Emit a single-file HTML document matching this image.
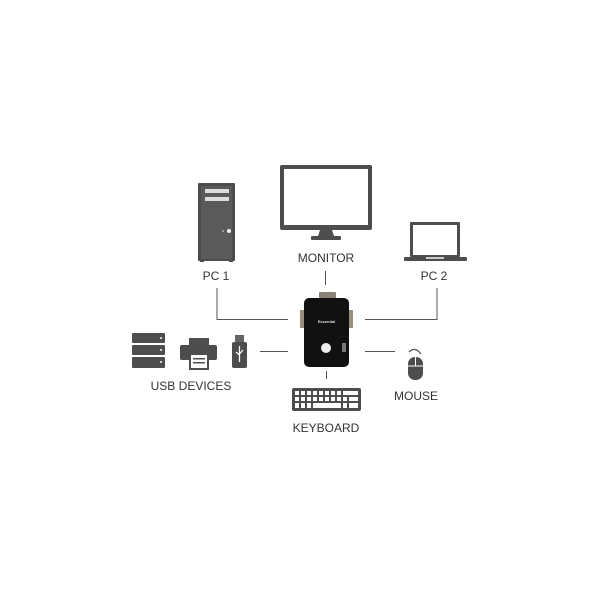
<!DOCTYPE html>
<html><head><meta charset="utf-8"><style>
html,body{margin:0;padding:0;background:#fff;}
svg{display:block}
text{font-family:"Liberation Sans",sans-serif;font-size:12px;fill:#333;text-anchor:middle;}
</style></head><body>
<svg width="600" height="600" viewBox="0 0 600 600">
<g fill="#4d4d4d" stroke="none">
<!-- PC tower -->
<rect x="198" y="183" width="37" height="78" rx="1"/>
<rect x="201" y="186" width="31" height="73" fill="#5a5a5a"/>
<rect x="205" y="189" width="24" height="4" fill="#ddd"/>
<rect x="205" y="197" width="24" height="4" fill="#ddd"/>
<circle cx="229" cy="231" r="2" fill="#eee"/>
<circle cx="223" cy="231" r="0.8" fill="#eee"/>
<rect x="200" y="260" width="4" height="2"/><rect x="229" y="260" width="4" height="2"/>
<!-- Monitor -->
<rect x="280" y="165" width="92" height="65" rx="2"/>
<rect x="284" y="169" width="84" height="56" fill="#fff"/>
<polygon points="320,230 332,230 334,236 318,236"/>
<rect x="311" y="236" width="30" height="4" rx="1"/>
<!-- Laptop -->
<rect x="410" y="222" width="50" height="35" rx="1"/>
<rect x="413" y="225" width="44" height="30" fill="#fff"/>
<rect x="404" y="257" width="63" height="4" rx="1"/>
<rect x="426" y="257" width="18" height="2" fill="#ccc"/>
<!-- Servers -->
<rect x="132" y="333" width="33" height="10" rx="1"/>
<rect x="132" y="345" width="33" height="10" rx="1"/>
<rect x="132" y="357" width="33" height="11" rx="1"/>
<circle cx="161" cy="338" r="1" fill="#fff"/><circle cx="161" cy="350" r="1" fill="#fff"/><circle cx="161" cy="362" r="1" fill="#fff"/>
<!-- Printer -->
<rect x="189" y="338" width="20" height="8"/>
<rect x="180" y="345" width="37" height="15" rx="2"/>
<rect x="189" y="353" width="20" height="17" fill="#4d4d4d"/>
<rect x="191" y="355" width="16" height="13" fill="#fff"/>
<rect x="193" y="358" width="12" height="1.5"/>
<rect x="193" y="362" width="12" height="1.5"/>
<!-- USB stick -->
<rect x="235" y="335" width="9" height="7" fill="#666"/>
<rect x="232" y="342" width="15" height="26" rx="2"/>
<path d="M239.5 346 v16 M236 352 l3.5 3 M243 350 l-3.5 4" stroke="#fff" stroke-width="1.2" fill="none"/>
<!-- Mouse -->
<path d="M409 352 q6 -6 12 2" stroke="#4d4d4d" stroke-width="1.2" fill="none"/>
<rect x="408" y="357" width="15" height="23" rx="7"/>
<line x1="415.5" y1="357" x2="415.5" y2="366" stroke="#fff" stroke-width="1"/>
<line x1="408" y1="366" x2="423" y2="366" stroke="#fff" stroke-width="1"/>
<!-- Keyboard -->
<rect x="292" y="388" width="69" height="23" rx="2"/>
</g>
<g fill="#fff">
<!-- keyboard keys -->
<g id="r1"><rect x="295" y="391" width="4" height="4"/><rect x="301" y="391" width="4" height="4"/><rect x="307" y="391" width="4" height="4"/><rect x="313" y="391" width="4" height="4"/><rect x="319" y="391" width="4" height="4"/><rect x="325" y="391" width="4" height="4"/><rect x="331" y="391" width="4" height="4"/><rect x="337" y="391" width="4" height="4"/><rect x="343" y="391" width="15" height="4"/></g>
<rect x="295" y="397" width="4" height="4"/><rect x="301" y="397" width="4" height="4"/><rect x="307" y="397" width="4" height="4"/><rect x="313" y="397" width="4" height="4"/><rect x="319" y="397" width="4" height="4"/><rect x="325" y="397" width="4" height="4"/><rect x="331" y="397" width="4" height="4"/><rect x="337" y="397" width="4" height="4"/><rect x="343" y="397" width="4" height="4"/><rect x="349" y="397" width="9" height="4"/>
<rect x="295" y="403" width="4" height="5"/><rect x="301" y="403" width="4" height="5"/><rect x="307" y="403" width="4" height="5"/><rect x="313" y="403" width="28" height="5"/><rect x="343" y="403" width="4" height="5"/><rect x="349" y="403" width="9" height="5"/>
</g>
<!-- connectors -->
<g stroke="#555" stroke-width="1" fill="none">
<polyline points="217,288 217,319.5 288,319.5"/>
<polyline points="437,288 437,319.5 365,319.5"/>
<line x1="325.5" y1="271" x2="325.5" y2="285"/>
<line x1="260" y1="351.5" x2="288" y2="351.5"/>
<line x1="365" y1="351.5" x2="395" y2="351.5"/>
<line x1="326.5" y1="371" x2="326.5" y2="379"/>
</g>
<!-- KVM device -->
<rect x="319" y="292" width="17" height="8" rx="1" fill="#8a8378"/>
<rect x="300" y="310" width="5" height="18" fill="#9a8f7f"/>
<rect x="348" y="310" width="5" height="18" fill="#9a8f7f"/>
<rect x="304" y="298" width="45" height="69" rx="5" fill="#111"/>
<text x="326.5" y="323" style="font-size:4px;fill:#ddd;font-weight:bold">Essential</text>
<circle cx="326" cy="348" r="5" fill="#eee"/>
<rect x="342" y="343" width="4" height="9" fill="#777"/>
<!-- labels -->
<text x="216" y="280">PC 1</text>
<text x="326" y="262">MONITOR</text>
<text x="434" y="280">PC 2</text>
<text x="191" y="390">USB DEVICES</text>
<text x="416" y="400">MOUSE</text>
<text x="326" y="432">KEYBOARD</text>
</svg>
</body></html>
